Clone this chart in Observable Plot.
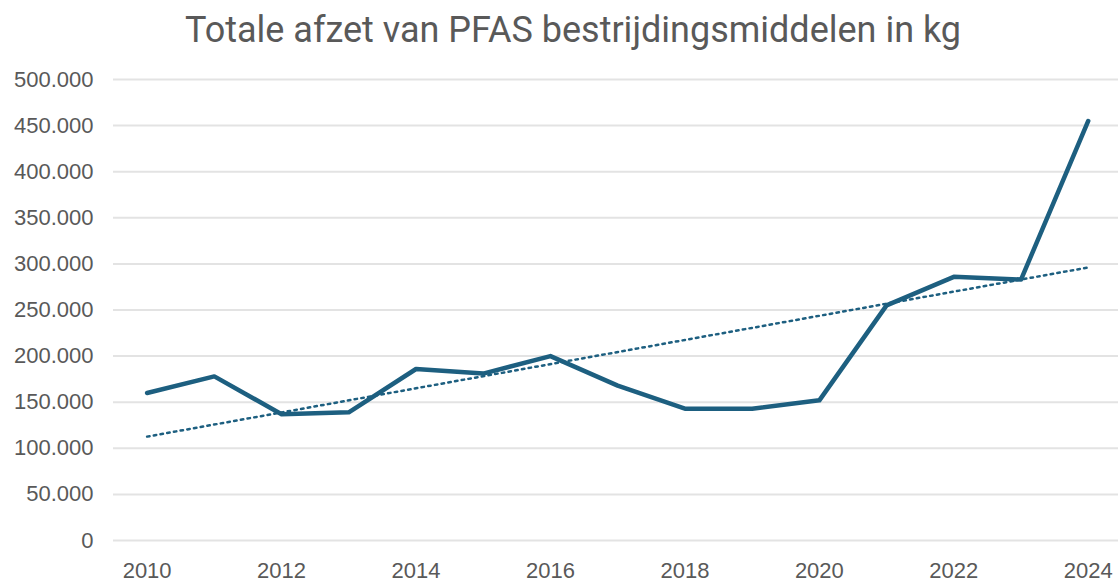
<!DOCTYPE html>
<html>
<head>
<meta charset="utf-8">
<script src="https://cdn.jsdelivr.net/npm/d3@7"></script>
<script src="https://cdn.jsdelivr.net/npm/@observablehq/plot@0.6"></script>
<style>
  body { margin: 0; background: #fff; }
  #title { height: 60px; width: 1090px; padding-left: 28px; text-align: center; font-family: Roboto, sans-serif; font-size: 36px; color: #595959; line-height: 60px; white-space: nowrap; }
  svg { display: block; }
</style>
</head>
<body>
<div id="title">Totale afzet van PFAS bestrijdingsmiddelen in kg</div>
<div id="chart"></div>
<script>
const years = [2010, 2011, 2012, 2013, 2014, 2015, 2016, 2017, 2018, 2019, 2020, 2021, 2022, 2023, 2024];
const afzet = [160000, 178000, 137000, 139000, 186000, 181000, 200000, 168000, 143000, 143000, 152000, 255000, 286000, 283000, 455000];
const yTicks = [0, 50000, 100000, 150000, 200000, 250000, 300000, 350000, 400000, 450000, 500000];
const xTicks = [2010, 2012, 2014, 2016, 2018, 2020, 2022, 2024];

const data = years.map((y, i) => ({year: y, kg: afzet[i]}));
const fmt = d => d3.format(",")(d).replace(/,/g, ".");
const color = "#1d5f80";

const chart = Plot.plot({
  width: 1118,
  height: 523,
  marginLeft: 113,
  marginRight: 0,
  marginTop: 19,
  marginBottom: 43,
  style: {fontFamily: "Liberation Sans, Arial, sans-serif", fontSize: "22px", color: "#595959", background: "#fff"},
  x: {domain: [2009.5, 2024.45]},
  y: {domain: [0, 500000]},
  marks: [
    Plot.gridY(yTicks, {stroke: "#e3e3e3", strokeOpacity: 1, strokeWidth: 2}),
    Plot.axisY(yTicks, {tickSize: 0, tickPadding: 20, tickFormat: fmt, fill: "#595959", label: null}),
    Plot.axisX(xTicks, {tickSize: 0, tickPadding: 22, tickFormat: d => String(d), fill: "#595959", label: null}),
    Plot.linearRegressionY(data, {x: "year", y: "kg", ci: 0, stroke: color, strokeWidth: 2.5, strokeDasharray: "2.5,4.3"}),
    Plot.line(data, {x: "year", y: "kg", stroke: color, strokeWidth: 4.5, strokeLinejoin: "round", strokeLinecap: "round"})
  ]
});
document.getElementById("chart").append(chart);
</script>
</body>
</html>
